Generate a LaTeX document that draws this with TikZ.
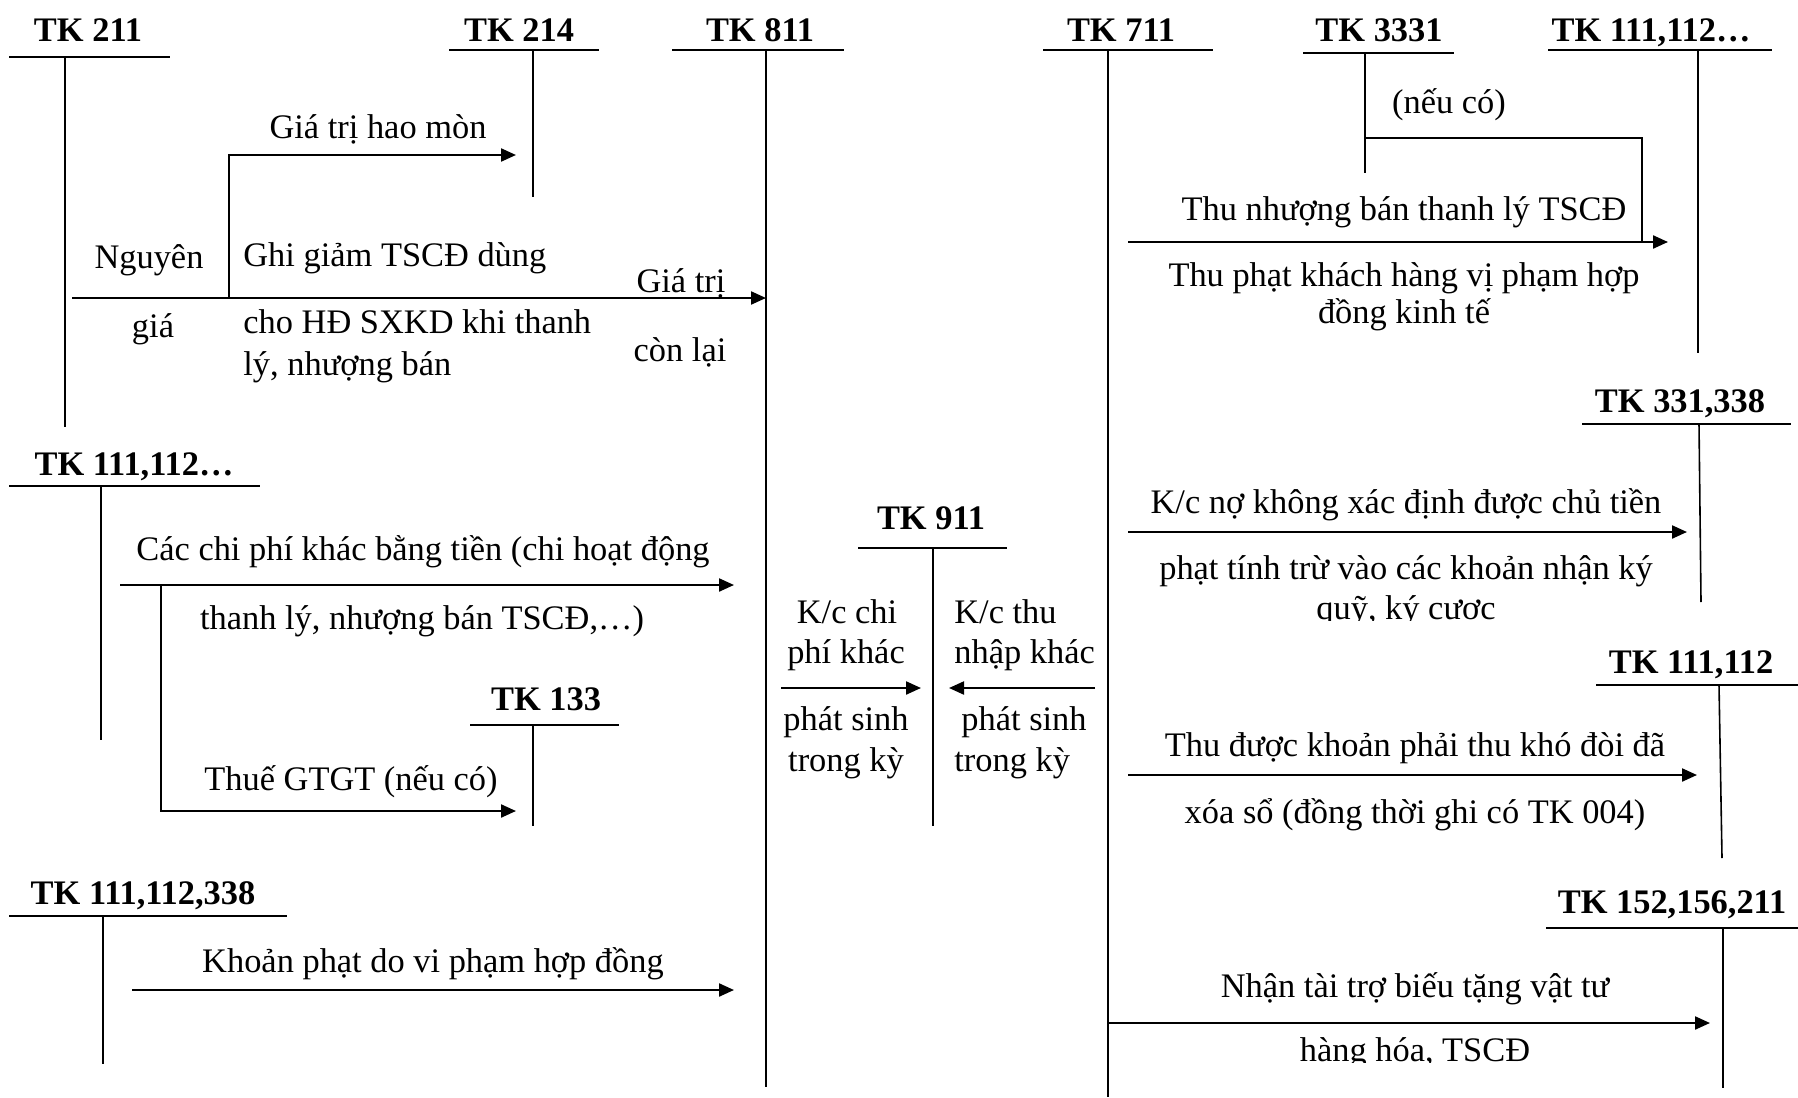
\documentclass[tikz,border=0pt]{standalone}
\usepackage{fontspec}
\setmainfont{Liberation Serif}
\usetikzlibrary{arrows.meta}
\begin{document}
\begin{tikzpicture}[x=0.5pt,y=-0.5pt,
  txt/.style={font=\fontsize{17.2}{20}\selectfont, inner sep=0pt, anchor=base, yshift=-5.5pt},
  txtw/.style={txt, anchor=base west},
  acct/.style={txt, font=\fontsize{17.2}{20}\selectfont\bfseries},
  tl/.style={line width=0.8pt},
  ul/.style={line width=1pt},
  arr/.style={line width=1.1pt, -{Triangle[length=7.5pt,width=6.5pt]}},
  ln/.style={line width=1pt}]
\useasboundingbox (0,0) rectangle (1798,1097);

% ---------- TK 211
\node[acct] (tk211) at (88,31) {TK 211};
\draw[ul] (9,57) -- (170,57);
\coordinate (v211) at (65,57);
\draw[tl] (v211) -- (65,427);
% ---------- TK 214
\node[acct] (tk214) at (519,31) {TK 214};
\draw[ul] (449,50) -- (599,50);
\coordinate (v214) at (533,50);
\draw[tl] (v214) -- (533,197);
% ---------- TK 811
\node[acct] (tk811) at (760,31) {TK 811};
\draw[ul] (672,50) -- (844,50);
\coordinate (v811) at (766,50);
\draw[tl] (v811) -- (766,1087);

% arrows 211 -> 811 / 214
\coordinate (m1) at (72,298);
\draw[arr] (m1) -- (m1 -| v811);
\coordinate (hm0) at (229,298);
\coordinate (hm1) at (229,155);
\coordinate (hm2) at (516,155);
\draw[arr] (hm0) -- (hm1) -- (hm2);
\node[txt] (thm) at (378,128) {Giá trị hao mòn};
\node[txt] (tng1) at (149,257) {Nguyên};
\node[txt] (tng2) at (153,326) {giá};
\node[txtw] (tgg1) at (243,255) {Ghi giảm TSCĐ dùng};
\node[txtw] (tgg2) at (243,322) {cho HĐ SXKD khi thanh};
\node[txtw] (tgg3) at (243,364) {lý, nhượng bán};
\node[txt] (tgt1) at (681,281) {Giá trị};
\node[txt] (tgt2) at (680,350) {còn lại};

% ---------- TK 111,112...
\node[acct] (tk111a) at (134,464) {TK 111,112…};
\draw[ul] (9,486) -- (260,486);
\coordinate (v111a) at (101,486);
\draw[tl] (v111a) -- (101,740);
\coordinate (c1) at (120,585);
\draw[arr] (c1) -- (734,585);
\node[txt] (tcp1) at (423,549) {Các chi phí khác bằng tiền (chi hoạt động};
\node[txt] (tcp2) at (422,618) {thanh lý, nhượng bán TSCĐ,…)};
% ---------- TK 133
\node[acct] (tk133) at (546,699) {TK 133};
\draw[ul] (470,725) -- (619,725);
\coordinate (v133) at (533,725);
\draw[tl] (v133) -- (533,826);
\coordinate (b0) at (161,585);
\coordinate (b1) at (161,811);
\coordinate (b2) at (516,811);
\draw[arr] (b0) -- (b1) -- (b2);
\node[txt] (tgtgt) at (351,779) {Thuế GTGT (nếu có)};

% ---------- TK 111,112,338
\node[acct] (tk338a) at (143,893) {TK 111,112,338};
\draw[ul] (9,916) -- (287,916);
\coordinate (v338a) at (103,916);
\draw[tl] (v338a) -- (103,1064);
\coordinate (k1) at (132,990);
\draw[arr] (k1) -- (734,990);
\node[txt] (tkp) at (433,961) {Khoản phạt do vi phạm hợp đồng};

% ---------- TK 911
\node[acct] (tk911) at (931,518) {TK 911};
\draw[ul] (858,548) -- (1007,548);
\coordinate (v911) at (933,548);
\draw[tl] (v911) -- (933,826);
\coordinate (kc1) at (781,688);
\coordinate (kc2) at (921,688);
\draw[arr] (kc1) -- (kc2);
\coordinate (kt1) at (1095,688);
\coordinate (kt2) at (949,688);
\draw[arr] (kt1) -- (kt2);
\node[txt] (tkc1) at (847,612) {K/c chi};
\node[txt] (tkc2) at (846,652) {phí khác};
\node[txt] (tkc3) at (846,719) {phát sinh};
\node[txt] (tkc4) at (846,760) {trong kỳ};
\node[txtw] (tkt1) at (954,612) {K/c thu};
\node[txtw] (tkt2) at (954,652) {nhập khác};
\node[txtw] (tkt3) at (961,719) {phát sinh};
\node[txtw] (tkt4) at (954,760) {trong kỳ};

% ---------- TK 711
\node[acct] (tk711) at (1121,31) {TK 711};
\draw[ul] (1043,50) -- (1213,50);
\coordinate (v711) at (1108,50);
\draw[tl] (v711) -- (1108,1097);
% ---------- TK 3331
\node[acct] (tk3331) at (1379,31) {TK 3331};
\draw[ul] (1303,53) -- (1454,53);
\coordinate (v3331) at (1365,53);
\draw[tl] (v3331) -- (1365,173);
\node[txt] (tnc) at (1449,102) {(nếu có)};
\coordinate (s0) at (1365,138);
\coordinate (s1) at (1642,138);
\coordinate (s2) at (1642,242);
\draw[tl] (s0) -- (s1) -- (s2);
% ---------- TK 111,112... right
\node[acct] (tk111b) at (1651,31) {TK 111,112…};
\draw[ul] (1548,50) -- (1772,50);
\coordinate (v111b) at (1698,50);
\draw[tl] (v111b) -- (1698,353);
\coordinate (t1) at (1128,242);
\draw[arr] (t1) -- (1668,242);
\node[txt] (ttn) at (1404,209) {Thu nhượng bán thanh lý TSCĐ};
\node[txt] (ttp1) at (1404,275) {Thu phạt khách hàng vị phạm hợp};
\node[txt] (ttp2) at (1404,312) {đồng kinh tế};

% ---------- TK 331,338
\node[acct] (tk331) at (1680,401) {TK 331,338};
\draw[ul] (1582,424) -- (1791,424);
\coordinate (v331) at (1699,424);
\draw[tl] (v331) -- (1701,602);
\coordinate (n1) at (1128,532);
\draw[arr] (n1) -- (1687,532);
\node[txt] (tno1) at (1406,502) {K/c nợ không xác định được chủ tiền};
\node[txt] (tno2) at (1406,568) {phạt tính trừ vào các khoản nhận ký};
\begin{scope}
\clip (1200,580) rectangle (1600,620);
\node[txt] (tno3) at (1406,608) {quỹ, ký cược};
\end{scope}

% ---------- TK 111,112
\node[acct] (tk111c) at (1691,662) {TK 111,112};
\draw[ul] (1596,685) -- (1798,685);
\coordinate (v111c) at (1719,685);
\draw[tl] (v111c) -- (1722,858);
\coordinate (p1) at (1128,775);
\draw[arr] (p1) -- (1697,775);
\node[txt] (tpt1) at (1415,745) {Thu được khoản phải thu khó đòi đã};
\node[txt] (tpt2) at (1415,812) {xóa sổ (đồng thời ghi có TK 004)};

% ---------- TK 152,156,211
\node[acct] (tk152) at (1672,902) {TK 152,156,211};
\draw[ul] (1546,928) -- (1798,928);
\coordinate (v152) at (1723,928);
\draw[tl] (v152) -- (1723,1088);
\coordinate (r1) at (1108,1023);
\draw[arr] (r1) -- (1710,1023);
\node[txt] (ttt1) at (1415,986) {Nhận tài trợ biếu tặng vật tư};
\begin{scope}
\clip (1200,1000) rectangle (1600,1062);
\node[txt] (ttt2) at (1415,1050) {hàng hóa, TSCĐ};
\end{scope}
\end{tikzpicture}
\end{document}
